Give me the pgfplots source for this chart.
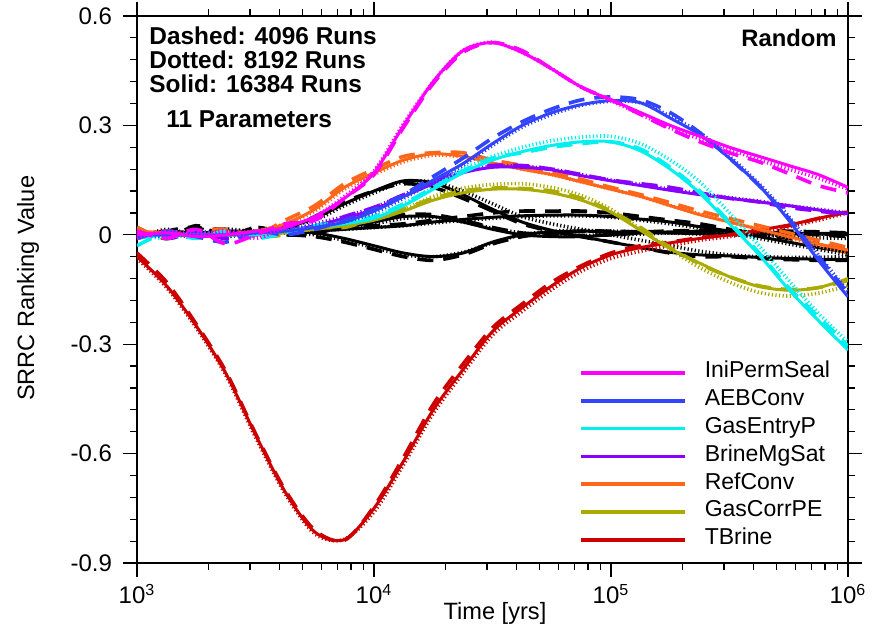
\documentclass[border=0pt]{standalone}
\usepackage{fontspec}
\setmainfont{Liberation Sans}
\usepackage{pgfplots}
\usepackage{pgfplotstable}
\pgfplotsset{compat=1.18}

\definecolor{magC}{RGB}{255,0,255}
\definecolor{blueC}{RGB}{51,68,255}
\definecolor{cyanC}{RGB}{0,240,240}
\definecolor{purpC}{RGB}{136,0,255}
\definecolor{orgC}{RGB}{255,102,25}
\definecolor{olvC}{RGB}{170,170,0}
\definecolor{redC}{RGB}{204,0,0}

% columns: x = log10(time), s = solid (16384), d = dashed (4096), t = dotted (8192)
\pgfplotstableread{
x s d t
3.000 0.000 0.010 -0.010
3.125 0.005 -0.010 0.010
3.250 -0.005 0.015 0.000
3.375 0.000 -0.025 0.010
3.500 0.010 0.000 -0.010
3.625 0.020 0.030 0.020
3.750 0.050 0.040 0.050
3.875 0.100 0.100 0.105
4.000 0.170 0.165 0.175
4.125 0.300 0.295 0.305
4.250 0.420 0.415 0.420
4.375 0.505 0.500 0.505
4.500 0.527 0.527 0.528
4.625 0.500 0.505 0.500
4.750 0.455 0.455 0.455
4.875 0.405 0.405 0.405
5.000 0.370 0.370 0.368
5.125 0.335 0.330 0.330
5.250 0.300 0.290 0.293
5.375 0.270 0.255 0.263
5.500 0.240 0.225 0.235
5.625 0.215 0.200 0.205
5.750 0.190 0.168 0.180
5.875 0.165 0.135 0.155
6.000 0.130 0.115 0.125
}\tMag

\pgfplotstableread{
x s d t
3.000 0.000 -0.010 0.005
3.125 0.000 0.010 -0.005
3.250 0.000 -0.005 0.010
3.375 0.000 -0.020 0.000
3.500 0.005 0.010 0.005
3.625 0.010 0.000 0.015
3.750 0.020 0.015 0.025
3.875 0.035 0.040 0.035
4.000 0.065 0.070 0.060
4.125 0.105 0.110 0.100
4.250 0.150 0.160 0.145
4.375 0.195 0.210 0.190
4.500 0.250 0.265 0.245
4.625 0.300 0.310 0.295
4.750 0.335 0.345 0.330
4.875 0.357 0.370 0.355
5.000 0.368 0.378 0.366
5.125 0.362 0.370 0.362
5.250 0.320 0.335 0.325
5.375 0.274 0.280 0.280
5.500 0.210 0.210 0.215
5.625 0.135 0.135 0.140
5.750 0.040 0.045 0.050
5.875 -0.070 -0.060 -0.055
6.000 -0.170 -0.160 -0.155
}\tBlue

\pgfplotstableread{
x s d t
3.000 -0.010 -0.030 0.000
3.125 0.000 0.005 -0.010
3.250 0.000 -0.010 0.005
3.375 0.000 0.010 0.000
3.500 0.000 -0.010 0.005
3.625 0.010 0.005 0.010
3.750 0.020 0.025 0.020
3.875 0.030 0.035 0.035
4.000 0.045 0.050 0.050
4.125 0.080 0.085 0.085
4.250 0.125 0.130 0.130
4.375 0.170 0.175 0.180
4.500 0.205 0.210 0.215
4.625 0.228 0.225 0.240
4.750 0.245 0.240 0.258
4.875 0.255 0.250 0.268
5.000 0.255 0.255 0.270
5.125 0.230 0.235 0.250
5.250 0.180 0.185 0.205
5.375 0.114 0.120 0.145
5.500 0.030 0.035 0.060
5.625 -0.055 -0.050 -0.030
5.750 -0.150 -0.145 -0.125
5.875 -0.235 -0.225 -0.215
6.000 -0.316 -0.305 -0.295
}\tCyan

\pgfplotstableread{
x s d t
3.000 0.000 0.010 -0.005
3.125 0.000 -0.010 0.005
3.250 0.000 0.005 0.000
3.375 0.000 -0.010 0.010
3.500 0.005 0.000 0.005
3.625 0.010 0.015 0.010
3.750 0.025 0.020 0.030
3.875 0.045 0.050 0.050
4.000 0.070 0.075 0.075
4.125 0.105 0.110 0.110
4.250 0.140 0.145 0.145
4.375 0.170 0.175 0.175
4.500 0.185 0.190 0.188
4.625 0.185 0.190 0.188
4.750 0.178 0.180 0.180
4.875 0.162 0.165 0.165
5.000 0.148 0.150 0.150
5.125 0.135 0.140 0.138
5.250 0.122 0.130 0.125
5.375 0.110 0.115 0.113
5.500 0.100 0.100 0.102
5.625 0.090 0.090 0.092
5.750 0.080 0.075 0.080
5.875 0.068 0.065 0.070
6.000 0.058 0.055 0.060
}\tPurp

\pgfplotstableread{
x s d t
3.000 0.010 0.020 0.000
3.125 0.005 -0.010 0.010
3.250 0.000 0.010 -0.005
3.375 0.000 0.015 0.005
3.500 0.010 0.000 0.010
3.625 0.030 0.040 0.030
3.750 0.070 0.080 0.065
3.875 0.130 0.140 0.125
4.000 0.170 0.180 0.165
4.125 0.205 0.215 0.200
4.250 0.222 0.225 0.218
4.375 0.215 0.225 0.213
4.500 0.197 0.205 0.197
4.625 0.180 0.190 0.180
4.750 0.165 0.172 0.165
4.875 0.145 0.152 0.145
5.000 0.125 0.130 0.125
5.125 0.105 0.110 0.105
5.250 0.080 0.088 0.080
5.375 0.055 0.065 0.057
5.500 0.035 0.045 0.035
5.625 0.015 0.025 0.015
5.750 -0.005 0.005 -0.008
5.875 -0.025 -0.015 -0.030
6.000 -0.042 -0.035 -0.050
}\tOrg

\pgfplotstableread{
x s d t
3.000 0.000 -0.010 0.010
3.125 0.000 0.010 -0.005
3.250 0.000 -0.005 0.005
3.375 0.000 0.010 0.000
3.500 0.000 -0.005 0.005
3.625 0.005 0.000 0.010
3.750 0.015 0.020 0.015
3.875 0.025 0.020 0.030
4.000 0.040 0.045 0.045
4.125 0.065 0.070 0.070
4.250 0.095 0.100 0.105
4.375 0.115 0.120 0.128
4.500 0.125 0.128 0.138
4.625 0.125 0.127 0.140
4.750 0.115 0.120 0.130
4.875 0.095 0.100 0.108
5.000 0.062 0.065 0.070
5.125 0.012 0.020 0.015
5.250 -0.038 -0.035 -0.040
5.375 -0.078 -0.080 -0.090
5.500 -0.115 -0.115 -0.130
5.625 -0.142 -0.140 -0.158
5.750 -0.152 -0.150 -0.168
5.875 -0.145 -0.145 -0.160
6.000 -0.120 -0.125 -0.140
}\tOlv

\pgfplotstableread{
x s d t
3.000 -0.060 -0.050 -0.065
3.125 -0.140 -0.130 -0.145
3.250 -0.250 -0.245 -0.255
3.375 -0.380 -0.375 -0.385
3.500 -0.548 -0.545 -0.555
3.625 -0.705 -0.700 -0.710
3.750 -0.815 -0.810 -0.820
3.875 -0.836 -0.838 -0.835
4.000 -0.750 -0.745 -0.760
4.125 -0.620 -0.610 -0.630
4.250 -0.480 -0.465 -0.490
4.375 -0.370 -0.355 -0.380
4.500 -0.265 -0.255 -0.275
4.625 -0.200 -0.190 -0.210
4.750 -0.140 -0.130 -0.150
4.875 -0.090 -0.085 -0.100
5.000 -0.055 -0.050 -0.065
5.125 -0.035 -0.030 -0.045
5.250 -0.022 -0.020 -0.030
5.375 -0.010 -0.008 -0.015
5.500 0.000 0.000 -0.005
5.625 0.013 0.012 0.008
5.750 0.027 0.025 0.022
5.875 0.045 0.045 0.040
6.000 0.063 0.063 0.060
}\tRed

\pgfplotstableread{
x s d t
3.000 0.000 0.020 -0.010
3.125 0.010 -0.010 0.015
3.250 0.005 0.025 0.000
3.375 0.010 -0.005 0.015
3.500 0.010 0.020 0.010
3.625 0.020 0.010 0.025
3.750 0.045 0.050 0.040
3.875 0.085 0.090 0.080
4.000 0.120 0.120 0.115
4.125 0.148 0.140 0.145
4.250 0.142 0.130 0.145
4.375 0.110 0.100 0.120
4.500 0.070 0.065 0.085
4.625 0.035 0.030 0.050
4.750 0.012 0.010 0.030
4.875 -0.005 -0.005 0.015
5.000 -0.020 -0.020 0.000
5.125 -0.035 -0.035 -0.015
5.250 -0.048 -0.050 -0.030
5.375 -0.055 -0.060 -0.045
5.500 -0.058 -0.060 -0.055
5.625 -0.062 -0.065 -0.060
5.750 -0.065 -0.068 -0.062
5.875 -0.067 -0.070 -0.062
6.000 -0.068 -0.070 -0.060
}\tBa

\pgfplotstableread{
x s d t
3.000 0.000 -0.010 0.005
3.125 0.000 0.010 -0.005
3.250 0.000 0.020 0.000
3.375 0.000 -0.010 0.005
3.500 0.005 0.020 0.000
3.625 0.008 0.000 0.010
3.750 0.010 0.005 0.012
3.875 0.015 0.020 0.015
4.000 0.020 0.025 0.020
4.125 0.025 0.030 0.025
4.250 0.035 0.040 0.032
4.375 0.042 0.050 0.040
4.500 0.048 0.060 0.045
4.625 0.052 0.065 0.050
4.750 0.054 0.065 0.052
4.875 0.054 0.065 0.052
5.000 0.050 0.060 0.048
5.125 0.043 0.050 0.040
5.250 0.035 0.040 0.030
5.375 0.022 0.030 0.018
5.500 0.010 0.015 0.005
5.625 -0.005 0.000 -0.010
5.750 -0.020 -0.010 -0.025
5.875 -0.035 -0.025 -0.040
6.000 -0.048 -0.040 -0.055
}\tBb

\pgfplotstableread{
x s d t
3.000 0.000 0.010 -0.005
3.125 0.000 -0.010 0.005
3.250 0.000 0.010 0.000
3.375 0.000 0.015 -0.005
3.500 0.005 -0.005 0.005
3.625 0.008 0.000 0.005
3.750 0.005 -0.005 0.000
3.875 -0.010 -0.020 -0.015
4.000 -0.030 -0.040 -0.035
4.125 -0.050 -0.060 -0.055
4.250 -0.060 -0.070 -0.060
4.375 -0.050 -0.055 -0.048
4.500 -0.020 -0.025 -0.022
4.625 0.000 -0.005 0.000
4.750 0.008 0.005 0.010
4.875 0.010 0.010 0.012
5.000 0.008 0.010 0.010
5.125 0.006 0.008 0.008
5.250 0.005 0.010 0.005
5.375 0.003 0.008 0.002
5.500 0.002 0.010 0.000
5.625 0.002 0.012 -0.002
5.750 0.003 0.010 0.000
5.875 0.004 0.008 0.002
6.000 0.004 0.005 0.002
}\tBc

\pgfplotstableread{
x s d t
3.000 0.000 0.015 -0.010
3.125 0.005 -0.010 0.010
3.250 0.000 0.020 -0.005
3.375 0.005 0.000 0.010
3.500 0.005 0.015 0.000
3.625 0.008 0.000 0.010
3.750 0.010 0.020 0.012
3.875 0.020 0.030 0.020
4.000 0.035 0.040 0.030
4.125 0.050 0.055 0.045
4.250 0.050 0.055 0.048
4.375 0.035 0.040 0.035
4.500 0.015 0.020 0.018
4.625 0.000 0.005 0.005
4.750 -0.005 0.000 0.000
4.875 -0.005 -0.002 -0.002
5.000 0.000 0.000 0.000
5.125 0.005 0.005 0.002
5.250 0.008 0.010 0.005
5.375 0.010 0.012 0.005
5.500 0.010 0.010 0.005
5.625 0.008 0.008 0.000
5.750 0.005 0.005 -0.005
5.875 0.002 0.000 -0.008
6.000 0.000 -0.005 -0.010
}\tBd

\pgfplotsset{
  sol/.style={solid, line width=1.5pt, smooth},
  dsh/.style={line width=1.8pt, dash pattern=on 8pt off 5pt, smooth},
  dtt/.style={line width=1.8pt, dash pattern=on 0.6pt off 1.2pt, smooth},
}

\begin{document}
\begin{tikzpicture}
\begin{axis}[
  name=ax,
  scale only axis,
  width=355.5pt, height=273.5pt,
  xmin=3, xmax=6, ymin=-0.9, ymax=0.6,
  xtick={3,4,5,6},
  xticklabels={10\textsuperscript{3},10\textsuperscript{4},10\textsuperscript{5},10\textsuperscript{6}},
  minor xtick={3.30103,3.47712,3.60206,3.69897,3.77815,3.84510,3.90309,3.95424,
               4.30103,4.47712,4.60206,4.69897,4.77815,4.84510,4.90309,4.95424,
               5.30103,5.47712,5.60206,5.69897,5.77815,5.84510,5.90309,5.95424},
  ytick={-0.9,-0.6,-0.3,0,0.3,0.6},
  yticklabels={-0.9,-0.6,-0.3,0,0.3,0.6},
  minor y tick num=4,
  tick align=outside,
  tick pos=both,
  major tick length=7pt,
  minor tick length=3.5pt,
  every tick/.style={black, line width=0.6pt},
  axis line style={line width=0.9pt},
  /pgf/number format/assume math mode=true,
  tick label style={font=\fontsize{12}{13}\selectfont},
  yticklabel style={xshift=-2pt},
  xlabel={Time [yrs]},
  ylabel={SRRC Ranking Value},
  label style={font=\fontsize{11.8}{13}\selectfont},
  xlabel style={at={(axis description cs:0.5035,-0.092)}, anchor=center},
  ylabel style={at={(axis description cs:-0.1533,0.502)}, anchor=center},
  legend style={draw=none, fill=none, at={(axis description cs:0.6215,0.3735)}, anchor=north west,
    font=\fontsize{11.5}{13}\selectfont, inner sep=0pt, row sep=0pt,
    nodes={inner sep=0pt, text height=9.4pt, text depth=4.5pt},
    /tikz/every odd column/.append style={column sep=9pt}},
  legend cell align=left,
  legend image code/.code={\draw[#1, line width=1.75pt] (0pt,0pt) -- (52pt,0pt);},
]
% black parameters
\addplot[black, dsh, forget plot] table[x=x,y=d]{\tBa};
\addplot[black, dtt, forget plot] table[x=x,y=t]{\tBa};
\addplot[black, sol, forget plot] table[x=x,y=s]{\tBa};
\addplot[black, dsh, forget plot] table[x=x,y=d]{\tBb};
\addplot[black, dtt, forget plot] table[x=x,y=t]{\tBb};
\addplot[black, sol, forget plot] table[x=x,y=s]{\tBb};
\addplot[black, dsh, forget plot] table[x=x,y=d]{\tBc};
\addplot[black, dtt, forget plot] table[x=x,y=t]{\tBc};
\addplot[black, sol, forget plot] table[x=x,y=s]{\tBc};
\addplot[black, dsh, forget plot] table[x=x,y=d]{\tBd};
\addplot[black, dtt, forget plot] table[x=x,y=t]{\tBd};
\addplot[black, sol, forget plot] table[x=x,y=s]{\tBd};
\addplot[redC, dsh, forget plot] table[x=x,y=d]{\tRed};
\addplot[redC, dtt, forget plot] table[x=x,y=t]{\tRed};
\addplot[redC, sol, forget plot] table[x=x,y=s]{\tRed};
\addplot[olvC, dsh, forget plot] table[x=x,y=d]{\tOlv};
\addplot[olvC, dtt, forget plot] table[x=x,y=t]{\tOlv};
\addplot[olvC, sol, forget plot] table[x=x,y=s]{\tOlv};
\addplot[orgC, dsh, forget plot] table[x=x,y=d]{\tOrg};
\addplot[orgC, dtt, forget plot] table[x=x,y=t]{\tOrg};
\addplot[orgC, sol, forget plot] table[x=x,y=s]{\tOrg};
\addplot[purpC, dsh, forget plot] table[x=x,y=d]{\tPurp};
\addplot[purpC, dtt, forget plot] table[x=x,y=t]{\tPurp};
\addplot[purpC, sol, forget plot] table[x=x,y=s]{\tPurp};
\addplot[cyanC, dsh, forget plot] table[x=x,y=d]{\tCyan};
\addplot[cyanC, dtt, forget plot] table[x=x,y=t]{\tCyan};
\addplot[cyanC, sol, forget plot] table[x=x,y=s]{\tCyan};
\addplot[blueC, dsh, forget plot] table[x=x,y=d]{\tBlue};
\addplot[blueC, dtt, forget plot] table[x=x,y=t]{\tBlue};
\addplot[blueC, sol, forget plot] table[x=x,y=s]{\tBlue};
\addplot[magC, dsh, forget plot] table[x=x,y=d]{\tMag};
\addplot[magC, dtt, forget plot] table[x=x,y=t]{\tMag};
\addplot[magC, sol, forget plot] table[x=x,y=s]{\tMag};

\addlegendimage{magC}\addlegendentry{IniPermSeal}
\addlegendimage{blueC}\addlegendentry{AEBConv}
\addlegendimage{cyanC}\addlegendentry{GasEntryP}
\addlegendimage{purpC}\addlegendentry{BrineMgSat}
\addlegendimage{orgC}\addlegendentry{RefConv}
\addlegendimage{olvC}\addlegendentry{GasCorrPE}
\addlegendimage{redC}\addlegendentry{TBrine}

\node[anchor=base west, font=\bfseries\fontsize{12.2}{13}\selectfont, inner sep=0pt] at (axis description cs:0.0169,0.9488) {Dashed: 4096 Runs};
\node[anchor=base west, font=\bfseries\fontsize{12.2}{13}\selectfont, inner sep=0pt] at (axis description cs:0.0169,0.9044) {Dotted: 8192 Runs};
\node[anchor=base west, font=\bfseries\fontsize{12.2}{13}\selectfont, inner sep=0pt] at (axis description cs:0.0169,0.8598) {Solid: 16384 Runs};
\node[anchor=base west, font=\bfseries\fontsize{12.2}{13}\selectfont, inner sep=0pt] at (axis description cs:0.0408,0.7958) {11 Parameters};
\node[anchor=base east, font=\bfseries\fontsize{11.9}{13}\selectfont, inner sep=0pt] at (axis description cs:0.9845,0.9439) {Random};
\node[anchor=base west, font=\fontsize{3.1}{3.5}\selectfont, text=black!80, inner sep=0pt, yshift=1.4pt] at (axis description cs:0,1) {V:\textbackslash projekte\textbackslash mosel\textbackslash rechnungen\textbackslash mc\textbackslash mosel\textbackslash LILW\textbackslash R\textbackslash ranking\_values\textbackslash random\textbackslash 11\textbackslash mc4096-8192-16384-11-LILW-r\_SD-Src-R.lay};
\end{axis}
\pgfresetboundingbox
\path ([shift={(-68.5pt,-35pt)}]ax.south west) rectangle ([shift={(13pt,8pt)}]ax.north east);
\end{tikzpicture}
\end{document}
